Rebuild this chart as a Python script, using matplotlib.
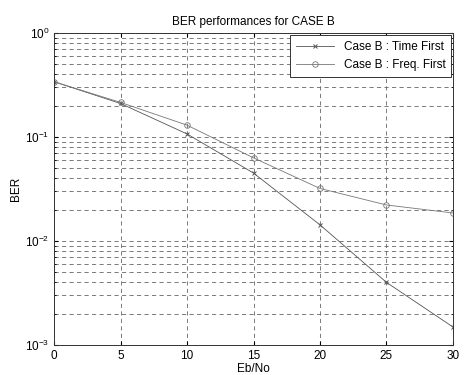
import matplotlib
matplotlib.use("Agg")
import matplotlib.pyplot as plt
from matplotlib.ticker import LogLocator, NullFormatter

plt.rcParams['font.family'] = ['Liberation Sans', 'DejaVu Sans']

eb_no = [0, 5, 10, 15, 20, 25, 30]
ber_time_first = [0.34, 0.21, 0.107, 0.045, 0.0143, 0.0040, 0.00149]
ber_freq_first = [0.34, 0.215, 0.130, 0.063, 0.032, 0.0222, 0.0186]

xticks = [0, 5, 10, 15, 20, 25, 30]

fig = plt.figure(figsize=(4.66, 3.75), dpi=100)
ax = fig.add_axes([0.116, 0.08, 0.856, 0.832])

ax.semilogy(eb_no, ber_time_first, color='#555555', lw=0.6, marker='x',
            ms=3.5, mew=0.7, label='Case B : Time First')
ax.semilogy(eb_no, ber_freq_first, color='#777777', lw=0.6, marker='o',
            ms=4, mew=0.6, mfc='none', label='Case B : Freq. First')

ax.set_xlim(0, 30)
ax.set_ylim(1e-3, 1)
ax.set_xticks(xticks)
ax.yaxis.set_major_locator(LogLocator(base=10, numticks=10))
ax.yaxis.set_minor_locator(LogLocator(base=10, subs=range(2, 10), numticks=20))
ax.yaxis.set_minor_formatter(NullFormatter())

grid_style = dict(color='#666666', linestyle=(0, (5, 4)), linewidth=0.6)
ax.grid(True, which='major', axis='both', **grid_style)
ax.grid(True, which='minor', axis='y', **grid_style)

ax.tick_params(axis='both', which='both', direction='in', labelsize=8.5,
               top=True, right=True, length=3)
ax.tick_params(axis='y', which='minor', length=1.5)
for s in ax.spines.values():
    s.set_linewidth(0.7)
    s.set_color('#333333')

ax.set_xlabel('Eb/No', fontsize=8.5, labelpad=1)
ax.set_ylabel('BER', fontsize=8.5, labelpad=2)
ax.set_title('BER performances for CASE B', fontsize=8.5, pad=6)

leg = ax.legend(loc='upper right', fontsize=8.5, fancybox=False,
                edgecolor='#333333', framealpha=1, borderaxespad=0.15,
                handlelength=3.2, borderpad=0.5, labelspacing=0.55)
leg.get_frame().set_linewidth(0.7)

fig.savefig('out.png', dpi=100)
